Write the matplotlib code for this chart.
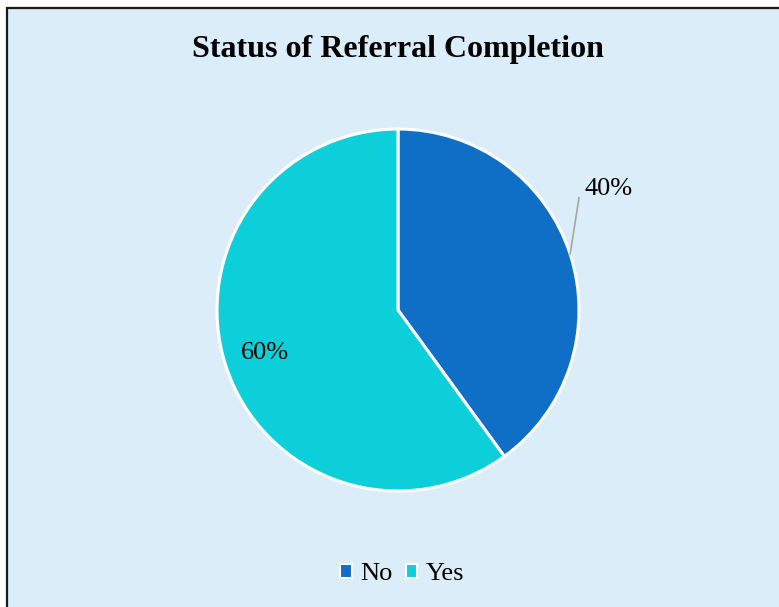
import matplotlib
matplotlib.use("Agg")
import matplotlib.pyplot as plt
from matplotlib.patches import Rectangle, Patch
import numpy as np

categories = ["No", "Yes"]
values = [40, 60]
colors = ["#0F6FC6", "#0DCFDA"]
title = "Status of Referral Completion"

W, H = 779, 607
fig = plt.figure(figsize=(W / 100, H / 100), dpi=100)
fig.patch.set_facecolor("white")
plt.rcParams["font.family"] = ["Liberation Serif", "DejaVu Serif"]

# chart area background with border
fig.patches.append(Rectangle((7 / W, -0.05), 1.1, 1 - 8 / H + 0.05, transform=fig.transFigure,
                             facecolor="#DAEDF8", edgecolor="#1a1a1a", linewidth=1.6, zorder=-10))

cx, cy, r = 398, 310, 181
ax = fig.add_axes([(cx - r) / W, (H - cy - r) / H, 2 * r / W, 2 * r / H])
ax.set_zorder(5)
ax.set_facecolor("none")
wedges, _ = ax.pie(values, colors=colors, startangle=90, counterclock=False,
                   wedgeprops=dict(edgecolor="white", linewidth=2.2), radius=1.0)
ax.set_xlim(-1, 1)
ax.set_ylim(-1, 1)
ax.set_aspect("equal")
ax.axis("off")

total = sum(values)
for w, v in zip(wedges, values):
    ang = np.deg2rad((w.theta1 + w.theta2) / 2)
    pct = f"{round(100 * v / total)}%"
    if v < 50:
        x0, y0 = np.cos(ang), np.sin(ang)
        ax.plot([x0 * 1.0, 1.0], [y0 * 1.0, 0.62], color="#A6A6A6", lw=1.2, clip_on=False)
        ax.text(1.165, 0.67, pct, fontsize=19, ha="center", va="center", clip_on=False)
    else:
        ax.text(0.775 * np.cos(ang), 0.775 * np.sin(ang), pct, fontsize=19,
                ha="center", va="center")

fig.text(cx / W, 1 - 50 / H, title, fontsize=23, fontweight="bold", ha="center", va="center")

handles = [Patch(facecolor=c, edgecolor="white", linewidth=1.5) for c in colors]
fig.legend(handles, categories, loc="center", bbox_to_anchor=((cx + 4) / W, 1 - 574 / H), ncol=2,
           frameon=False, fontsize=19, handlelength=0.45, handleheight=0.45, handletextpad=0.3,
           columnspacing=0.5)

fig.savefig("out.png", dpi=100)
